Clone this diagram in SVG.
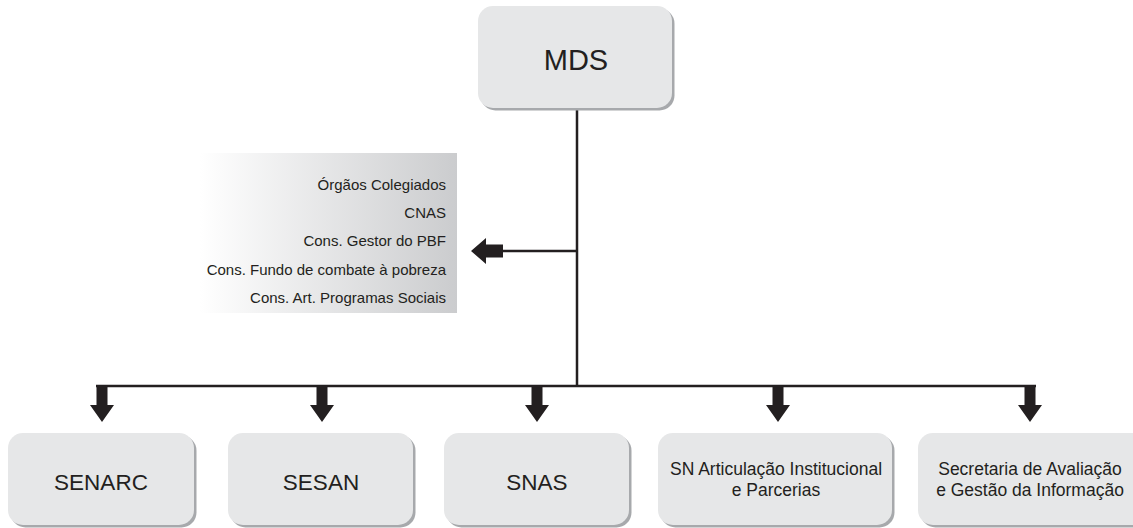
<svg xmlns="http://www.w3.org/2000/svg" width="1133" height="528" viewBox="0 0 1133 528">
<defs>
<linearGradient id="pg" x1="0" y1="0" x2="1" y2="0">
<stop offset="0" stop-color="#ffffff"/>
<stop offset="1" stop-color="#cbccce"/>
</linearGradient>
</defs>
<style>
.sh{fill:#a7a9ac}
.bx{fill:#e6e7e8}
.t{font-family:"Liberation Sans",Arial,sans-serif;fill:#231f20;text-anchor:middle}
.l{font-family:"Liberation Sans",Arial,sans-serif;fill:#231f20;text-anchor:end;font-size:15px}
.ln{stroke:#231f20;stroke-width:2.5;fill:none}
.ar{fill:#231f20}
</style>
<rect width="1133" height="528" fill="#ffffff"/>
<g id="panel">
<rect x="200" y="153" width="257" height="160" fill="url(#pg)"/>
<text class="l" x="446" y="190">Órgãos Colegiados</text>
<text class="l" x="446" y="218">CNAS</text>
<text class="l" x="446" y="246">Cons. Gestor do PBF</text>
<text class="l" x="446" y="275">Cons. Fundo de combate à pobreza</text>
<text class="l" x="446" y="303">Cons. Art. Programas Sociais</text>
</g>
<g id="connectors">
<line class="ln" x1="577" y1="108" x2="577" y2="387"/>
<line class="ln" x1="96" y1="386" x2="1036" y2="386"/>
<line class="ln" x1="500" y1="251" x2="577" y2="251"/>
<polygon class="ar" points="503,244.5 503,257.5 486,257.5 486,264 471,251 486,238 486,244.5"/>
<polygon class="ar" points="96.5,385 107.5,385 107.5,405 114,405 102,422 90,405 96.5,405"/>
<polygon class="ar" points="316.5,385 327.5,385 327.5,405 334,405 322,422 310,405 316.5,405"/>
<polygon class="ar" points="531.5,385 542.5,385 542.5,405 549,405 537,422 525,405 531.5,405"/>
<polygon class="ar" points="772.5,385 783.5,385 783.5,405 790,405 778,422 766,405 772.5,405"/>
<polygon class="ar" points="1024.5,385 1035.5,385 1035.5,405 1042,405 1030,422 1018,405 1024.5,405"/>
</g>
<g id="mds">
<rect class="sh" x="480.5" y="8.5" width="194" height="102" rx="15"/>
<rect class="bx" x="478" y="6" width="194" height="102" rx="15"/>
<text class="t" x="576" y="70" font-size="29">MDS</text>
</g>
<g id="senarc">
<rect class="sh" x="10.5" y="435.5" width="186" height="92" rx="15"/>
<rect class="bx" x="8" y="433" width="186" height="92" rx="15"/>
<text class="t" x="101" y="490" font-size="22.5">SENARC</text>
</g>
<g id="sesan">
<rect class="sh" x="230.5" y="435.5" width="185" height="92" rx="15"/>
<rect class="bx" x="228" y="433" width="185" height="92" rx="15"/>
<text class="t" x="321" y="490" font-size="22.5">SESAN</text>
</g>
<g id="snas">
<rect class="sh" x="446.5" y="435.5" width="185" height="92" rx="15"/>
<rect class="bx" x="444" y="433" width="185" height="92" rx="15"/>
<text class="t" x="537" y="490" font-size="22.5">SNAS</text>
</g>
<g id="snai">
<rect class="sh" x="660.5" y="435.5" width="234" height="92" rx="15"/>
<rect class="bx" x="658" y="433" width="234" height="92" rx="15"/>
<text class="t" x="776" y="475" font-size="17.5">SN Articulação Institucional</text>
<text class="t" x="776" y="496" font-size="17.5">e Parcerias</text>
</g>
<g id="sagi">
<rect class="sh" x="920.5" y="435.5" width="230" height="92" rx="15"/>
<rect class="bx" x="918" y="433" width="230" height="92" rx="15"/>
<text class="t" x="1030" y="475" font-size="17.5">Secretaria de Avaliação</text>
<text class="t" x="1030" y="496" font-size="17.5">e Gestão da Informação</text>
</g>
</svg>
